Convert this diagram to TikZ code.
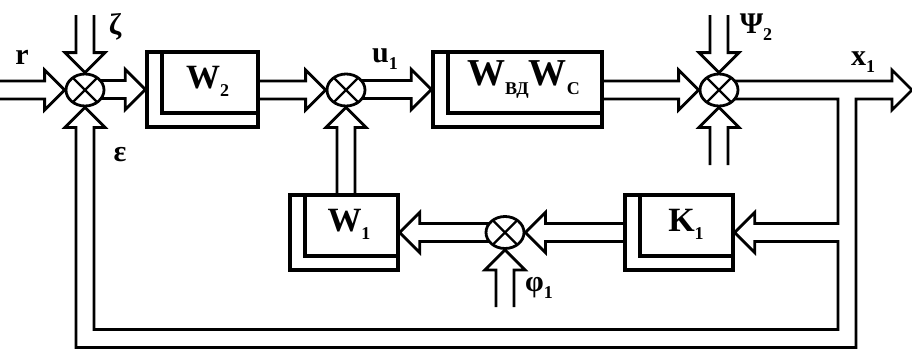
\documentclass[tikz,border=0pt]{standalone}
\usepackage{fontspec}
\setmainfont{Liberation Serif}
\usetikzlibrary{shapes.geometric,calc}
\pgfdeclarelayer{bg}
\pgfsetlayers{bg,main}
\newcommand\lsub[1]{\raisebox{-0.5ex}{\fontsize{9}{9}\selectfont #1}}
\def\hw{4.5pt}\def\hh{10pt}\def\al{10pt}
\newcommand\arrR[2]{\draw[dbl] let \p1=(#1), \p2=(#2) in (\x1,\y2+\hw) -- (\x2-\al,\y2+\hw) -- (\x2-\al,\y2+\hh) -- (\x2,\y2) -- (\x2-\al,\y2-\hh) -- (\x2-\al,\y2-\hw) -- (\x1,\y2-\hw);}
\newcommand\arrL[2]{\draw[dbl] let \p1=(#1), \p2=(#2) in (\x1,\y2+\hw) -- (\x2+\al,\y2+\hw) -- (\x2+\al,\y2+\hh) -- (\x2,\y2) -- (\x2+\al,\y2-\hh) -- (\x2+\al,\y2-\hw) -- (\x1,\y2-\hw);}
\newcommand\arrD[2]{\draw[dbl] let \p1=(#1), \p2=(#2) in (\x2-\hw,\y1) -- (\x2-\hw,\y2+\al) -- (\x2-\hh,\y2+\al) -- (\x2,\y2) -- (\x2+\hh,\y2+\al) -- (\x2+\hw,\y2+\al) -- (\x2+\hw,\y1);}
\newcommand\arrU[2]{\draw[dbl] let \p1=(#1), \p2=(#2) in (\x2-\hw,\y1) -- (\x2-\hw,\y2-\al) -- (\x2-\hh,\y2-\al) -- (\x2,\y2) -- (\x2+\hh,\y2-\al) -- (\x2+\hw,\y2-\al) -- (\x2+\hw,\y1);}
\tikzset{
  dbl/.style={line width=1.4pt, line join=miter},
  sumj/.style={ellipse, draw, fill=white, line width=1.4pt, minimum width=19pt, minimum height=16pt, inner sep=0pt,
    path picture={\draw[line width=1.1pt] ([shift={(45:20pt)}]path picture bounding box.center) -- ([shift={(225:20pt)}]path picture bounding box.center);
                  \draw[line width=1.1pt] ([shift={(135:20pt)}]path picture bounding box.center) -- ([shift={(315:20pt)}]path picture bounding box.center);}},
  blk/.style={draw, fill=white, line width=1.7pt, minimum width=#1, minimum height=37.5pt, inner sep=0pt,
    path picture={\draw[line width=1.7pt] ([xshift=7.5pt]path picture bounding box.north west) -- ([xshift=7.5pt,yshift=7pt]path picture bounding box.south west) -- ([yshift=7pt]path picture bounding box.south east);}},
  btxt/.style={font=\fontsize{17}{17}\selectfont\bfseries, inner sep=0pt},
  lbl/.style={font=\fontsize{15}{15}\selectfont\bfseries, inner sep=0pt}
}
\begin{document}
\begin{tikzpicture}[x=0.5pt,y=-0.5pt]
\useasboundingbox (0,0) rectangle (912,349);
% summing junctions
\node[sumj] (s1) at (85,90) {};
\node[sumj] (s2) at (346,90) {};
\node[sumj] (s3) at (719,90) {};
\node[sumj] (s4) at (505,232.5) {};
% blocks
\node[blk=55.5pt] (w2) at (202.5,89.5) {};
\node[blk=84.5pt] (b2) at (517.5,89.5) {};
\node[blk=54pt] (k1) at (679,232.5) {};
\node[blk=54pt] (w1) at (344,232.5) {};
\node[btxt] (w2t) at ($(w2.center)+(5,-8)$) {W\lsub{2}};
\node[btxt, font=\fontsize{19}{19}\selectfont\bfseries] (b2t) at ($(b2.center)+(6,-10)$) {W\lsub{ВД}W\lsub{С}};
\node[btxt] (k1t) at ($(k1.center)+(7,-8)$) {K\lsub{1}};
\node[btxt] (w1t) at ($(w1.center)+(5,-8)$) {W\lsub{1}};
% free ends
\coordinate (rin) at (0,90);
\coordinate (zin) at (85,15);
\coordinate (psin) at (719,15);
\coordinate (s3bin) at (719,165);
\coordinate (phin) at (505,307);
\coordinate (xout) at (912,90);
\coordinate (br) at (847,338.5);
% labels
\node[lbl] (lr) at (22,57) {r};
\node[lbl] (lz) at (115,27) {ζ};
\node[lbl] (le) at (120,155) {ε};
\node[lbl] (lu) at (385,59) {u\lsub{1}};
\node[lbl] (lpsi) at (756,27) {Ψ\lsub{2}};
\node[lbl] (lx) at (863,62) {x\lsub{1}};
\node[lbl] (lphi) at (539,288) {φ\lsub{1}};
% connectors
\begin{pgfonlayer}{bg}
\arrR{rin}{s1.west}
\arrD{zin}{s1.north}
\arrR{s1.center}{w2.west}
\arrR{w2.east}{s2.west}
\arrU{w1.north}{s2.south}
\arrR{s2.center}{b2.west}
\arrR{b2.east}{s3.west}
\arrD{psin}{s3.north}
\arrU{s3bin}{s3.south}
\arrL{k1.west}{s4.east}
\arrL{s4.center}{w1.east}
\arrU{phin}{s4.south}
\draw[dbl] let \p1=(s3.center), \p2=(xout), \p3=(br), \p4=(s1.south), \p5=(k1.east) in
  (\x1,\y1+\hw) -- (\x2-\al,\y1+\hw) -- (\x2-\al,\y1+\hh) -- (\x2,\y1) -- (\x2-\al,\y1-\hh) -- (\x2-\al,\y1-\hw)
  -- (\x3+\hw,\y1-\hw) -- (\x3+\hw,\y3-\hw) -- (\x4-\hw,\y3-\hw) -- (\x4-\hw,\y4-\al) -- (\x4-\hh,\y4-\al)
  -- (\x4,\y4) -- (\x4+\hh,\y4-\al) -- (\x4+\hw,\y4-\al) -- (\x4+\hw,\y3+\hw) -- (\x3-\hw,\y3+\hw)
  -- (\x3-\hw,\y5-\hw) -- (\x5+\al,\y5-\hw) -- (\x5+\al,\y5-\hh) -- (\x5,\y5) -- (\x5+\al,\y5+\hh)
  -- (\x5+\al,\y5+\hw) -- (\x3-\hw,\y5+\hw) -- (\x3-\hw,\y1-\hw) -- (\x1,\y1-\hw);
\end{pgfonlayer}
\end{tikzpicture}
\end{document}
